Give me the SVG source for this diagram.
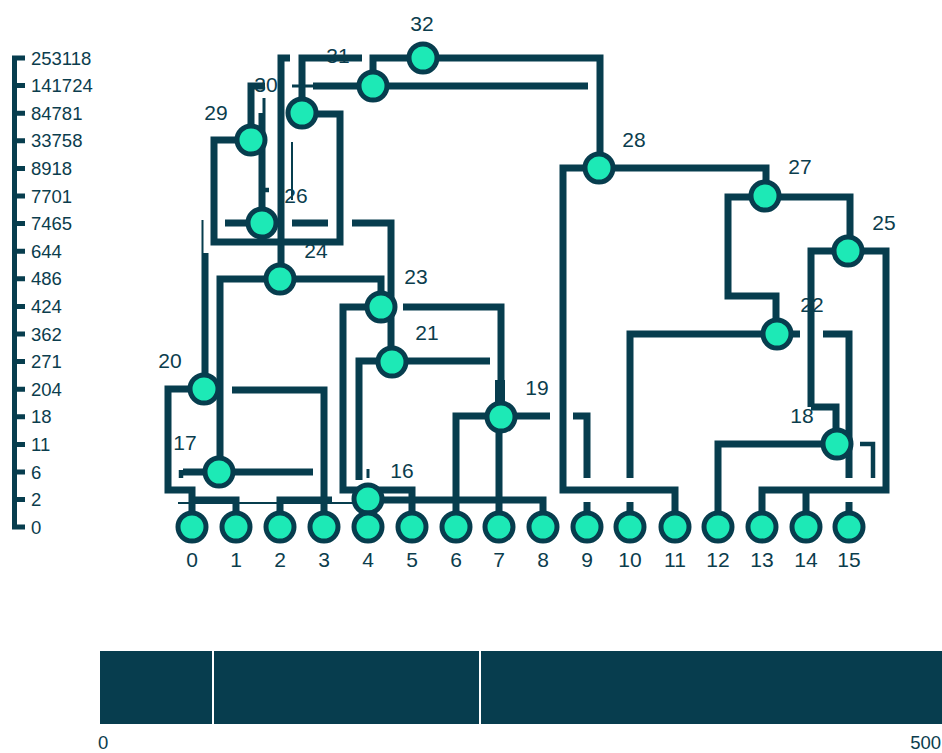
<svg xmlns="http://www.w3.org/2000/svg" width="942" height="753" viewBox="0 0 942 753">
<style>
.c{fill:none;stroke:#073d4e;stroke-width:7;stroke-linecap:butt;stroke-linejoin:miter}
.t2{fill:none;stroke:#073d4e;stroke-width:2}
.t3{fill:none;stroke:#073d4e;stroke-width:3}
.t4{fill:none;stroke:#073d4e;stroke-width:4.5}
.n{fill:#1de9b6;stroke:#073d4e;stroke-width:5}
.lb{font-family:"Liberation Sans",Arial,sans-serif;font-size:21px;fill:#0b3d4d;text-anchor:middle}
.ax{font-family:"Liberation Sans",Arial,sans-serif;font-size:18.5px;fill:#0b3d4d}
.axl{fill:none;stroke:#073d4e;stroke-width:5}
</style>
<rect width="942" height="753" fill="#fff"/>
<g id="axis">
<path class="axl" d="M14.5,55.5 V529.5 M12,58 H25 M12,85.6 H25 M12,113.2 H25 M12,140.8 H25 M12,168.4 H25 M12,196 H25 M12,223.6 H25 M12,251.2 H25 M12,278.8 H25 M12,306.4 H25 M12,334 H25 M12,361.6 H25 M12,389.2 H25 M12,416.8 H25 M12,444.4 H25 M12,472 H25 M12,499.6 H25 M12,527 H25"/>
<text class="ax" x="31" y="64.6">253118</text>
<text class="ax" x="31" y="92.2">141724</text>
<text class="ax" x="31" y="119.8">84781</text>
<text class="ax" x="31" y="147.4">33758</text>
<text class="ax" x="31" y="175">8918</text>
<text class="ax" x="31" y="202.6">7701</text>
<text class="ax" x="31" y="230.2">7465</text>
<text class="ax" x="31" y="257.8">644</text>
<text class="ax" x="31" y="285.4">486</text>
<text class="ax" x="31" y="313">424</text>
<text class="ax" x="31" y="340.6">362</text>
<text class="ax" x="31" y="368.2">271</text>
<text class="ax" x="31" y="395.8">204</text>
<text class="ax" x="31" y="423.4">18</text>
<text class="ax" x="31" y="451">11</text>
<text class="ax" x="31" y="478.6">6</text>
<text class="ax" x="31" y="506.2">2</text>
<text class="ax" x="31" y="533.8">0</text>
</g>
<g id="connectors">
<path class="c" d="M204,389 H168 V490 H192 V527"/>
<path class="c" d="M192,500 H236 V527"/>
<path class="t2" d="M178,503 H360"/>
<path class="c" d="M232,390 H324 V527"/>
<path class="c" d="M280,527 V500 H332"/>
<path class="c" d="M183,472 H313"/>
<path class="t4" d="M181,470 V478"/>
<path class="c" d="M220,471 V279 H381 V306"/>
<path class="c" d="M205,389 V253"/>
<path class="t2" d="M202.5,253 V220"/>
<path class="c" d="M290,58 H281 V278"/>
<path class="c" d="M362,58 H302 V112"/>
<path class="t3" d="M292,86 H313"/>
<path class="c" d="M313,86 H588"/>
<path class="c" d="M373,86 V58 H600 V168"/>
<path class="c" d="M251,140 V86 H265"/>
<path class="t3" d="M264,98 V113"/>
<path class="c" d="M262,113 V223"/>
<path class="t4" d="M265,190 H269"/>
<path class="c" d="M251,140 H214 V242 H340 V114 H302"/>
<path class="c" d="M225,223 H277 M292,223 H328"/>
<path class="c" d="M352,223 H391 V361"/>
<path class="t2" d="M292,142 V200"/>
<path class="c" d="M381,307 H343 V490 H412 V527"/>
<path class="c" d="M403,307 H501 V416"/>
<rect x="495" y="380" width="10" height="23" fill="#073d4e"/>
<path class="c" d="M490,361 H359 V480"/>
<path class="t3" d="M368,469 V478"/>
<path class="c" d="M367,500 H543 V527"/>
<path class="c" d="M550,416 H456 V527 M499,416 V527"/>
<path class="c" d="M573,416 H587 V478"/>
<path class="c" d="M587,502 V527 M630,502 V527 M849,502 V527"/>
<path class="c" d="M600,168 H563 V490 H675 V527"/>
<path class="c" d="M600,168 H766 V197"/>
<path class="c" d="M850,251 V197 H728 V296 H776 V334"/>
<path class="c" d="M776,334 H630 V478"/>
<path class="c" d="M776,334 H800 M823,334 H849 V478"/>
<path class="c" d="M811,407 V251 H886 V490 H762 V527 M806,490 V527"/>
<path class="c" d="M811,407 H836 V444"/>
<path class="c" d="M836,444 H718 V527"/>
<path class="t4" d="M860,444 H873 V478"/>
</g>
<g id="node-16"><circle class="n" cx="368" cy="499" r="14"/><text class="lb" x="402" y="477.5">16</text></g>
<g id="node-17"><circle class="n" cx="219" cy="472" r="14"/><text class="lb" x="185" y="449.5">17</text></g>
<g id="node-18"><circle class="n" cx="837" cy="444" r="14"/><text class="lb" x="802" y="422.5">18</text></g>
<g id="node-19"><circle class="n" cx="501" cy="417" r="14"/><text class="lb" x="537" y="394.5">19</text></g>
<g id="node-20"><circle class="n" cx="204" cy="389" r="14"/><text class="lb" x="170" y="367.5">20</text></g>
<g id="node-21"><circle class="n" cx="392" cy="362" r="14"/><text class="lb" x="427" y="339.5">21</text></g>
<g id="node-22"><circle class="n" cx="777" cy="334" r="14"/><text class="lb" x="812" y="311.5">22</text></g>
<g id="node-23"><circle class="n" cx="381" cy="307" r="14"/><text class="lb" x="416" y="283.5">23</text></g>
<g id="node-24"><circle class="n" cx="280" cy="279" r="14"/><text class="lb" x="316" y="257.5">24</text></g>
<g id="node-25"><circle class="n" cx="848" cy="251" r="14"/><text class="lb" x="884" y="229.5">25</text></g>
<g id="node-26"><circle class="n" cx="262" cy="223" r="14"/><text class="lb" x="296" y="202.5">26</text></g>
<g id="node-27"><circle class="n" cx="765" cy="196" r="14"/><text class="lb" x="800" y="173.5">27</text></g>
<g id="node-28"><circle class="n" cx="599" cy="168" r="14"/><text class="lb" x="634" y="146.5">28</text></g>
<g id="node-29"><circle class="n" cx="251" cy="140" r="14"/><text class="lb" x="216" y="119.5">29</text></g>
<g id="node-30"><circle class="n" cx="302" cy="113" r="14"/><text class="lb" x="266" y="91.5">30</text></g>
<g id="node-31"><circle class="n" cx="373" cy="86" r="14"/><text class="lb" x="338" y="62.5">31</text></g>
<g id="node-32"><circle class="n" cx="423" cy="58" r="14"/><text class="lb" x="422" y="31">32</text></g>
<g id="node-0"><circle class="n" cx="192" cy="527" r="14"/><text class="lb" x="192" y="567">0</text></g>
<g id="node-1"><circle class="n" cx="236" cy="527" r="14"/><text class="lb" x="236" y="567">1</text></g>
<g id="node-2"><circle class="n" cx="280" cy="527" r="14"/><text class="lb" x="280" y="567">2</text></g>
<g id="node-3"><circle class="n" cx="324" cy="527" r="14"/><text class="lb" x="324" y="567">3</text></g>
<g id="node-4"><circle class="n" cx="368" cy="527" r="14"/><text class="lb" x="368" y="567">4</text></g>
<g id="node-5"><circle class="n" cx="412" cy="527" r="14"/><text class="lb" x="412" y="567">5</text></g>
<g id="node-6"><circle class="n" cx="456" cy="527" r="14"/><text class="lb" x="456" y="567">6</text></g>
<g id="node-7"><circle class="n" cx="499" cy="527" r="14"/><text class="lb" x="499" y="567">7</text></g>
<g id="node-8"><circle class="n" cx="543" cy="527" r="14"/><text class="lb" x="543" y="567">8</text></g>
<g id="node-9"><circle class="n" cx="587" cy="527" r="14"/><text class="lb" x="587" y="567">9</text></g>
<g id="node-10"><circle class="n" cx="630" cy="527" r="14"/><text class="lb" x="630" y="567">10</text></g>
<g id="node-11"><circle class="n" cx="675" cy="527" r="14"/><text class="lb" x="675" y="567">11</text></g>
<g id="node-12"><circle class="n" cx="718" cy="527" r="14"/><text class="lb" x="718" y="567">12</text></g>
<g id="node-13"><circle class="n" cx="762" cy="527" r="14"/><text class="lb" x="762" y="567">13</text></g>
<g id="node-14"><circle class="n" cx="806" cy="527" r="14"/><text class="lb" x="806" y="567">14</text></g>
<g id="node-15"><circle class="n" cx="849" cy="527" r="14"/><text class="lb" x="849" y="567">15</text></g>
<g id="bar">
<rect x="100" y="651" width="842" height="73" fill="#073d4e"/>
<path d="M213,651 V724 M480,651 V724" stroke="#fff" stroke-width="2"/>
<text class="ax" x="98" y="749" font-size="20">0</text>
<text class="ax" x="941" y="749" font-size="20" text-anchor="end">500</text>
</g>
</svg>
